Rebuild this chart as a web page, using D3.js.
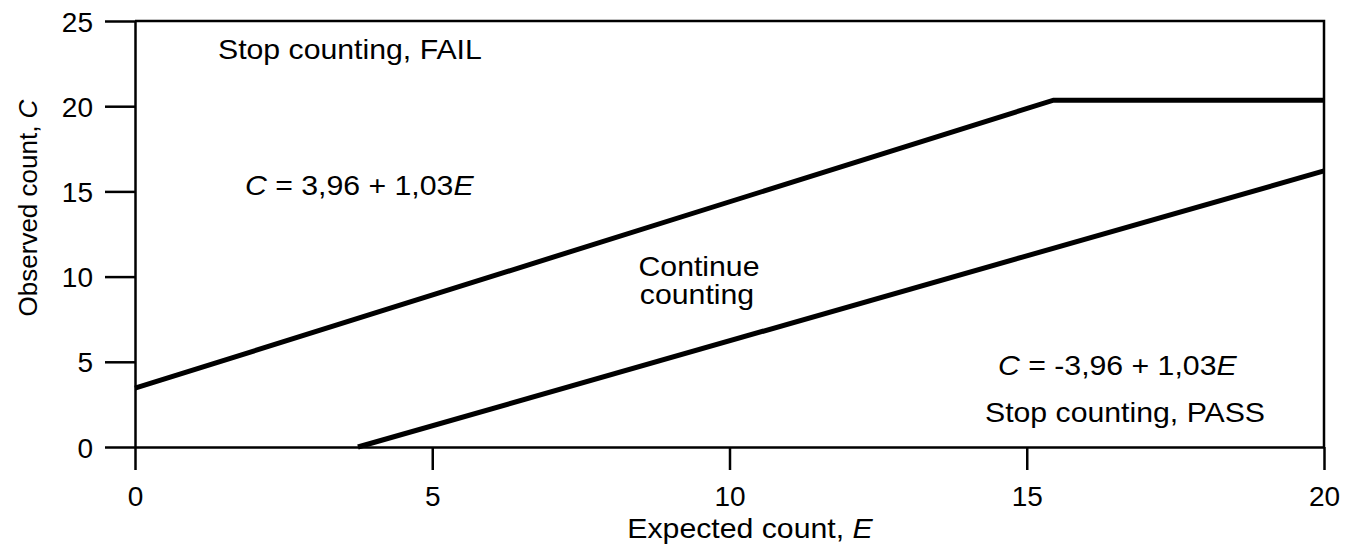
<!DOCTYPE html>
<html>

<head>
	<meta charset="utf-8">
	<script src="https://cdn.jsdelivr.net/npm/d3@7"></script>
	<style type="text/css">
		body {
			margin: 0;
			background: #fff;
		}

		svg text {
			font-family: 'Liberation Sans', Arial, Helvetica, sans-serif;
			fill: #000;
		}

		path.line {
			fill: none;
			stroke: #000;
			stroke-width: 5;
		}
	</style>
	<title>Sequential test</title>
</head>

<body>
	<script>
		// x ticks (Expected count) and y ticks (Observed count)
		var x_ticks = [0, 5, 10, 15, 20];
		var y_ticks = [0, 5, 10, 15, 20, 25];
		// upper boundary (FAIL)
		var upper_E = [0, 15.45, 20];
		var upper_C = [3.45, 20.35, 20.35];
		// lower boundary (PASS)
		var lower_E = [3.75, 20];
		var lower_C = [0, 16.2];

		var width = 1356;
		var height = 545;
		var margin = ({ top: 21, right: 32, bottom: 98, left: 135 });
		var sx = 1.08; // glyphs in the picture are a bit wide
		var fs = 28;

		var x_scale = d3.scaleLinear()
			.domain([0, 20])
			.range([margin.left, width - margin.right]);
		var y_scale = d3.scaleLinear()
			.domain([0, 25])
			.range([height - margin.bottom, margin.top]);

		var canvas = d3.select('body')
			.append('svg')
			.attr('width', width)
			.attr('height', height);

		// frame top and right
		canvas.append('path')
			.attr('d', `M${x_scale(0)},${y_scale(25)}H${x_scale(20)}V${y_scale(0)}`)
			.attr('fill', 'none')
			.attr('stroke', '#000')
			.attr('stroke-width', 2.5);

		// x axis
		var x_axis = canvas.append('g')
			.attr('transform', `translate(0,${y_scale(0)})`)
			.call(d3.axisBottom(x_scale).tickValues(x_ticks).tickSize(23).tickSizeOuter(0).tickPadding(16));
		// y axis
		var y_axis = canvas.append('g')
			.attr('transform', `translate(${x_scale(0)},0)`)
			.call(d3.axisLeft(y_scale).tickValues(y_ticks).tickSize(30).tickSizeOuter(0).tickPadding(12));

		[x_axis, y_axis].forEach(function (g) {
			g.selectAll('path, line').attr('stroke', '#000').attr('stroke-width', 2.5);
			g.selectAll('text').attr('font-size', 28).attr('font-family', null).attr('fill', '#000');
		});
		y_axis.selectAll('text').attr('dy', '0.36em');

		// boundary lines
		var line_gen = d3.line()
			.x(d => x_scale(d[0]))
			.y(d => y_scale(d[1]));
		canvas.append('path')
			.attr('class', 'line')
			.attr('d', line_gen(d3.zip(upper_E, upper_C)));
		canvas.append('path')
			.attr('class', 'line')
			.attr('d', line_gen(d3.zip(lower_E, lower_C)));

		// labels
		function label(x, y, parts, anchor) {
			var t = canvas.append('text')
				.attr('transform', `translate(${x},${y}) scale(${sx},1)`)
				.attr('font-size', fs)
				.attr('text-anchor', anchor || 'start');
			parts.forEach(function (p) {
				t.append('tspan')
					.attr('font-style', p[1] ? 'italic' : 'normal')
					.text(p[0]);
			});
			return t;
		}
		label(218, 59, [['Stop counting, FAIL']]);
		label(245, 195, [['C', 1], [' = 3,96 + 1,03'], ['E', 1]]);
		label(699, 276, [['Continue']], 'middle');
		label(697, 304, [['counting']], 'middle');
		label(998, 375, [['C', 1], [' = -3,96 + 1,03'], ['E', 1]]);
		label(985, 422, [['Stop counting, PASS']]);

		// axis titles
		label(750, 538, [['Expected count, '], ['E', 1]], 'middle');
		canvas.append('text')
			.attr('transform', 'translate(37,208) rotate(-90)')
			.attr('font-size', 26)
			.attr('text-anchor', 'middle')
			.call(t => t.append('tspan').text('Observed count, '))
			.call(t => t.append('tspan').attr('font-style', 'italic').text('C'));
	</script>
</body>

</html>
